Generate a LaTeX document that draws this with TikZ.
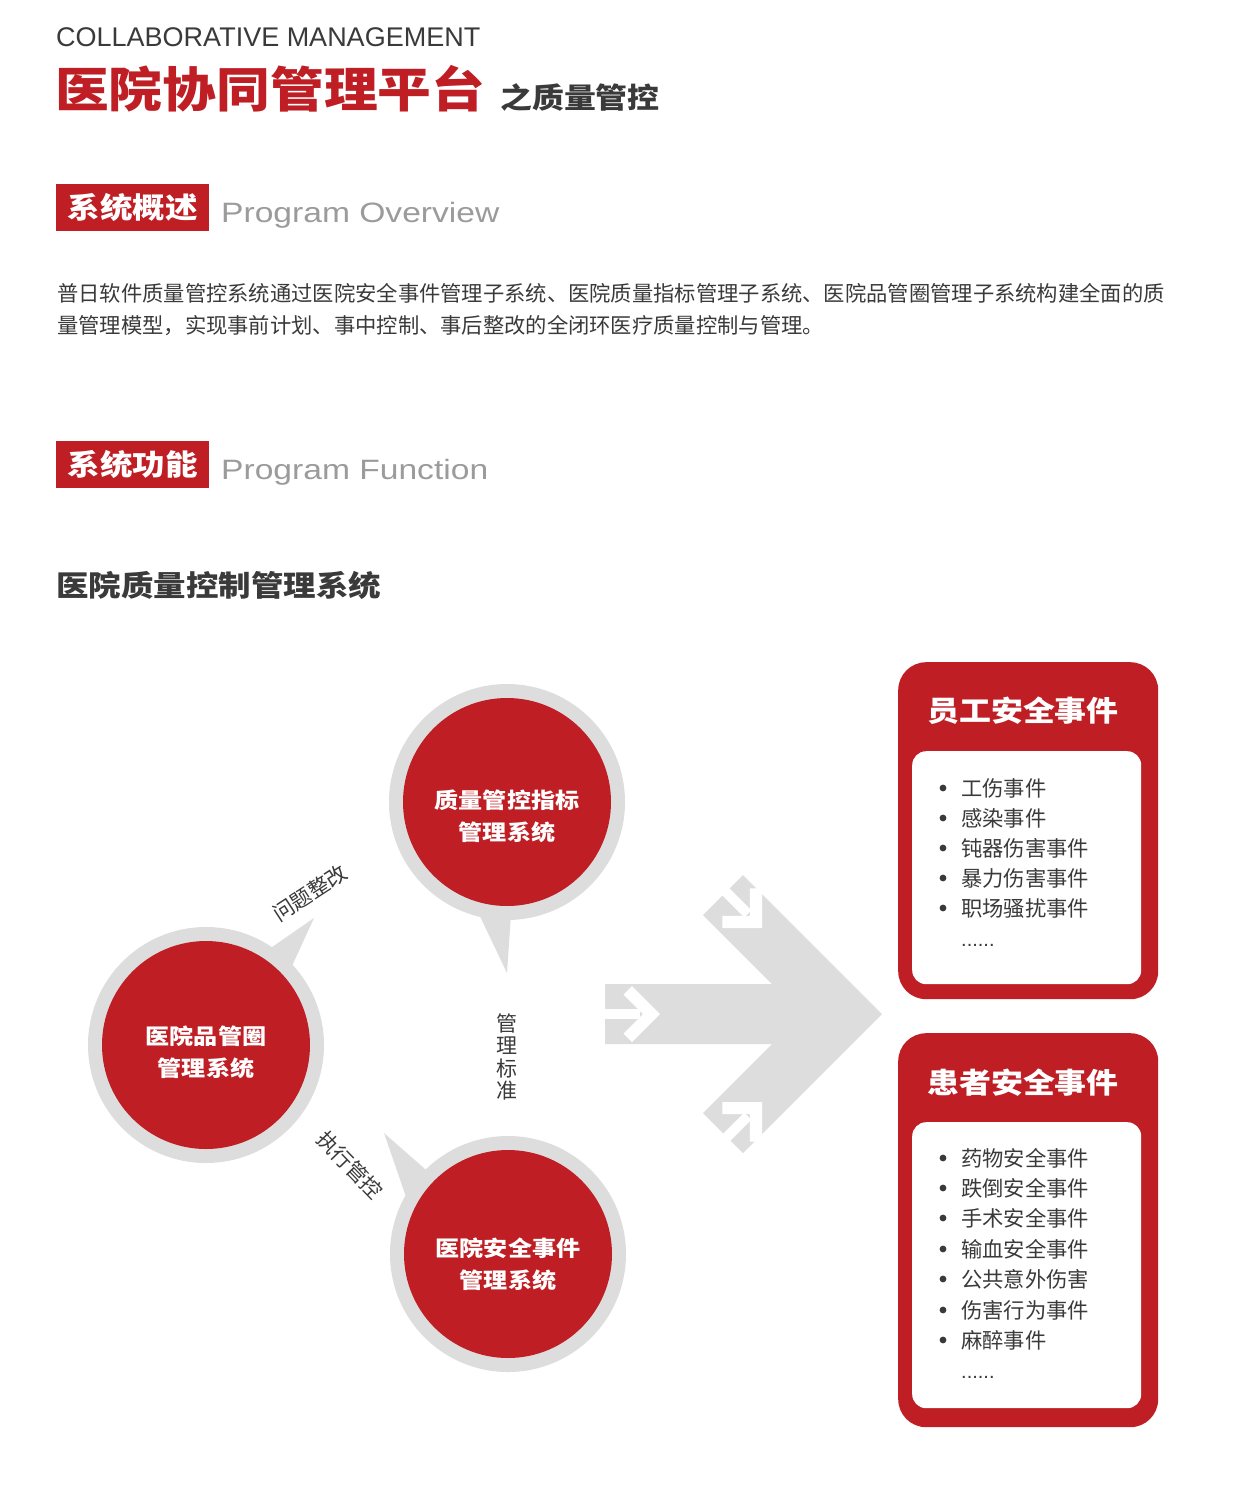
\documentclass[tikz,border=0pt]{standalone}
\usepackage{fontspec}
\setmainfont{Noto Sans CJK SC}
\newfontfamily\heavy{Noto Sans CJK SC}[FakeStretch=1.12]
\newfontfamily\lat{Liberation Sans}
\newfontfamily\latw{Liberation Sans}[FakeStretch=1.2]
\definecolor{qred}{RGB}{190,30,36}
\definecolor{ring}{RGB}{221,221,221}
\definecolor{ink}{RGB}{58,58,58}
\definecolor{softgray}{RGB}{155,155,155}
\tikzset{
  tagbox/.style={fill=qred, text=white, inner sep=0pt, minimum width=153pt, minimum height=47pt, anchor=north west, font=\heavy\bfseries\fontsize{29}{29}\selectfont},
  engtitle/.style={anchor=base west, inner sep=0pt, text=softgray, font=\latw\fontsize{28}{28}\selectfont},
  para/.style={anchor=west, inner sep=0pt, text=ink, font=\fontsize{21.3}{21.3}\selectfont},
  circtext/.style={text=white, align=center, inner sep=0pt, font=\heavy\bfseries\fontsize{21.5}{32}\selectfont},
  redcirc/.style={circle, fill=qred, minimum size=208pt, inner sep=0pt},
  ringcirc/.style={circle, fill=ring, minimum size=236pt, inner sep=0pt},
  looplabel/.style={text=ink, inner sep=0pt, font=\fontsize{21}{22.5}\selectfont},
  outerbox/.style={fill=qred, rounded corners=28pt, minimum width=260pt, inner sep=0pt, anchor=north west},
  innerbox/.style={fill=white, rounded corners=14pt, minimum width=229pt, inner sep=0pt, anchor=north west},
  boxtitle/.style={text=white, inner sep=0pt, font=\heavy\bfseries\fontsize{28.5}{28.5}\selectfont},
  item/.style={anchor=west, inner sep=0pt, text=ink, font=\fontsize{21.3}{21.3}\selectfont},
  dots/.style={anchor=base west, inner sep=0pt, text=ink, font=\lat\fontsize{20}{20}\selectfont},
  warrow/.pic={
    \fill[white] (0,0) -- (-28,28) -- (-36.5,19.5) -- (-17,0) -- (-36.5,-19.5) -- (-28,-28) -- cycle;
    \fill[white] (-20,-5) rectangle (-70,5);
  }
}
\begin{document}
\begin{tikzpicture}[x=1pt, y=-1pt]
\useasboundingbox (0,0) rectangle (1242,1491);
\fill[white] (0,0) rectangle (1242,1491);

% ---------- header ----------
\node[anchor=base west, inner sep=0pt, text=ink, font=\lat\fontsize{27}{27}\selectfont] (en) at (56,46) {COLLABORATIVE MANAGEMENT};
\node[anchor=west, inner sep=0pt, text=qred, font=\heavy\bfseries\fontsize{48}{48}\selectfont] (tt) at (55,89) {医院协同管理平台};
\node[anchor=west, inner sep=0pt, text=ink, font=\heavy\bfseries\fontsize{28.5}{28.5}\selectfont] (ts) at (500,98) {之质量管控};

% ---------- overview ----------
\node[tagbox] (s1) at (56,184) {系统概述};
\node[engtitle] (s1e) at (221,222) {Program Overview};
\node[para] (p1) at (57,293) {普日软件质量管控系统通过医院安全事件管理子系统、医院质量指标管理子系统、医院品管圈管理子系统构建全面的质};
\node[para] (p2) at (57,326) {量管理模型，实现事前计划、事中控制、事后整改的全闭环医疗质量控制与管理。};

% ---------- function ----------
\node[tagbox] (s2) at (56,441) {系统功能};
\node[engtitle] (s2e) at (221,479) {Program Function};
\node[anchor=west, inner sep=0pt, text=ink, font=\heavy\bfseries\fontsize{29}{29}\selectfont] (sub) at (56,585) {医院质量控制管理系统};

% ---------- circles ----------
% top
\node[ringcirc] (ra) at (507,802) {};
\fill[ring] (477,910) -- (507,973) -- (511,914) -- cycle;
\node[redcirc] (ca) at (507,802) {};
\node[circtext] (ta) at (507,816) {质量管控指标\\管理系统};
% left
\node[ringcirc] (rb) at (206,1045) {};
\fill[ring] (266.6,950.8) -- (314,918) -- (289.8,970.7) -- cycle;
\node[redcirc] (cb) at (206,1045) {};
\node[circtext] (tb) at (206,1052) {医院品管圈\\管理系统};
% bottom
\node[ringcirc] (rc) at (508,1254) {};
\fill[ring] (408,1202.7) -- (384,1133) -- (430,1173.4) -- cycle;
\node[redcirc] (cc) at (508,1254) {};
\node[circtext] (tc) at (508,1264) {医院安全事件\\管理系统};

% loop labels
\node[looplabel, rotate=33] (l1) at (310,893) {问题整改};
\node[looplabel, align=center] (l2) at (507,1057) {管\\理\\标\\准};
\node[looplabel, rotate=-46] (l3) at (350,1165) {执行管控};

% ---------- big arrow ----------
\fill[ring] (605,984) -- (772,984) -- (703,915) -- (743,875) -- (882,1014)
  -- (743,1153) -- (703,1113) -- (772,1044) -- (605,1044) -- cycle;
\pic[rotate=0] at (660,1014) {warrow};
\pic[rotate=-45] at (762,928) {warrow};
\pic[rotate=45] at (762,1102) {warrow};

% ---------- box 1 ----------
\node[outerbox, minimum height=337pt] (b1) at (898,662) {};
\node[innerbox, minimum height=233pt] (b1i) at (912,751) {};
\node[boxtitle] (b1t) at (1023,711) {员工安全事件};
\foreach \y/\t [count=\i] in {788/工伤事件, 818/感染事件, 848/钝器伤害事件, 878/暴力伤害事件, 908/职场骚扰事件}{
  \fill[ink] (943,\y) circle (3.4pt);
  \node[item] (ia\i) at (961,\y) {\t};
}
\node[dots] (da) at (961,946) {......};

% ---------- box 2 ----------
\node[outerbox, minimum height=394pt] (b2) at (898,1033) {};
\node[innerbox, minimum height=286pt] (b2i) at (912,1122) {};
\node[boxtitle] (b2t) at (1023,1083) {患者安全事件};
\foreach \y/\t [count=\i] in {1158/药物安全事件, 1188/跌倒安全事件, 1218/手术安全事件, 1249/输血安全事件, 1279/公共意外伤害, 1310/伤害行为事件, 1340/麻醉事件}{
  \fill[ink] (943,\y) circle (3.4pt);
  \node[item] (ib\i) at (961,\y) {\t};
}
\node[dots] (db) at (961,1378) {......};
\end{tikzpicture}
\end{document}
